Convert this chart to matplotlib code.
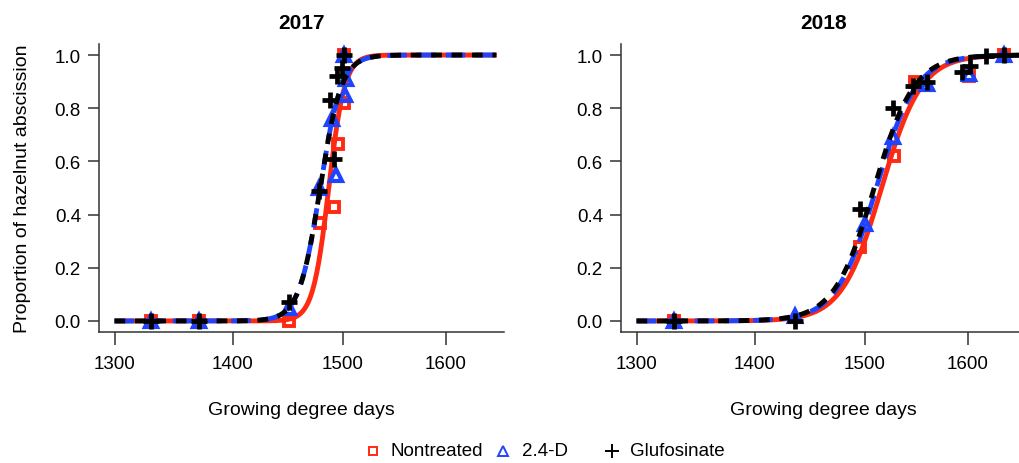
import numpy as np
import matplotlib
matplotlib.use('Agg')
import matplotlib.pyplot as plt
from matplotlib.ticker import FixedLocator, FixedFormatter, NullLocator
from matplotlib.lines import Line2D

plt.rcParams['font.family'] = ['Liberation Sans', 'DejaVu Sans']

# Observed points (growing degree days, proportion abscised)
gdd17_non = [1330, 1371, 1450, 1479, 1492, 1496, 1501, 1501]
prop17_non = [0.0, 0.0, 0.0, 0.37, 0.43, 0.665, 0.82, 1.0]
gdd17_24d = [1330, 1371, 1450, 1478, 1494, 1490, 1502, 1503, 1501]
prop17_24d = [0.0, 0.0, 0.05, 0.50, 0.55, 0.76, 0.85, 0.91, 1.0]
gdd17_glu = [1330, 1371, 1450, 1478, 1492, 1488, 1495, 1499, 1501]
prop17_glu = [0.0, 0.0, 0.07, 0.49, 0.61, 0.83, 0.92, 0.95, 1.0]

gdd18_non = [1331, 1496, 1528, 1548, 1601, 1637]
prop18_non = [0.0, 0.28, 0.62, 0.90, 0.92, 1.0]
gdd18_24d = [1331, 1436, 1500, 1527, 1560, 1601, 1637]
prop18_24d = [0.0, 0.02, 0.365, 0.69, 0.89, 0.93, 1.0]
gdd18_glu = [1331, 1436, 1496, 1527, 1546, 1560, 1594, 1602, 1619, 1637]
prop18_glu = [0.0, 0.0, 0.42, 0.80, 0.885, 0.90, 0.935, 0.96, 0.995, 1.0]

# fitted two-parameter log-logistic curves: (slope b, ED50 e)
fit17 = {'Nontreated': (200, 1487), '2.4-D': (150, 1479), 'Glufosinate': (150, 1479)}
fit18 = {'Nontreated': (80, 1516), '2.4-D': (80, 1511), 'Glufosinate': (80, 1509)}

ticks_x = [1300, 1400, 1500, 1600]
ticks_y = [0.0, 0.2, 0.4, 0.6, 0.8, 1.0]


def ll2(x, b, e):
    return 1.0 / (1.0 + np.exp(b * (np.log(e) - np.log(x))))


fig = plt.figure(figsize=(10.19, 4.64), dpi=100)
ax1 = fig.add_axes([99 / 1019, 131.4 / 464, 405 / 1019, 287.2 / 464])
ax2 = fig.add_axes([621 / 1019, 131.4 / 464, 405 / 1019, 287.2 / 464])

styles = {
    'Nontreated': dict(color='#ff2a12', ls='-', marker='s', ms=7, mew=2.8),
    '2.4-D': dict(color='#1f44ff', ls=(0, (4, 2)), marker='^', ms=8, mew=3),
    'Glufosinate': dict(color='black', ls=(0, (2.2, 2)), marker='+', ms=11, mew=3.4),
}

panels = [
    (ax1, '2017', fit17, [(gdd17_non, prop17_non), (gdd17_24d, prop17_24d), (gdd17_glu, prop17_glu)], 1652),
    (ax2, '2018', fit18, [(gdd18_non, prop18_non), (gdd18_24d, prop18_24d), (gdd18_glu, prop18_glu)], 1700),
]

for ax, title, fits, pts, xend in panels:
    xx = np.linspace(1300, xend, 600)
    for (name, (b, e)), (gx, gy) in zip(fits.items(), pts):
        st = styles[name]
        ax.plot(gx, gy, ls='none', marker=st['marker'], ms=st['ms'], mew=st['mew'],
                mec=st['color'], mfc='none', zorder=3)
        ax.plot(xx, ll2(xx, b, e), color=st['color'], ls=st['ls'], lw=3.5, zorder=3,
                solid_capstyle='butt', dash_capstyle='butt')
    ax.set_xscale('log')
    ax.set_xlim(1287.4, 1659.8)
    ax.set_ylim(-0.04, 1.04)
    ax.xaxis.set_major_locator(FixedLocator(ticks_x))
    ax.xaxis.set_major_formatter(FixedFormatter([str(t) for t in ticks_x]))
    ax.xaxis.set_minor_locator(NullLocator())
    ax.set_yticks(ticks_y)
    ax.set_yticklabels(['%.1f' % t for t in ticks_y])
    for s in ['top', 'right']:
        ax.spines[s].set_visible(False)
    for s in ['left', 'bottom']:
        ax.spines[s].set_color('#333333')
        ax.spines[s].set_linewidth(1.1)
    ax.tick_params(axis='x', length=9, width=1.1, color='#333333', labelsize=13.5, pad=8)
    ax.tick_params(axis='y', length=8, width=1.1, color='#333333', labelsize=13.5, pad=5)
    ax.set_title(title, fontsize=15, fontweight='bold', pad=12)
    ax.set_xlabel('Growing degree days', fontsize=14, labelpad=21)

ax1.set_ylabel('Proportion of hazelnut abscission', fontsize=14, labelpad=17)

# legend along the bottom
leg_y = 12 / 464
items = [(373, 391, 'Nontreated'), (503, 522, '2.4-D'), (612, 630, 'Glufosinate')]
for (mx, tx, name) in items:
    st = styles[name]
    fig.add_artist(Line2D([mx / 1019], [leg_y], marker=st['marker'], ls='none',
                          ms=st['ms'] * 0.9, mew=1.4, mec=st['color'], mfc='none',
                          transform=fig.transFigure))
    fig.text(tx / 1019, leg_y, name, fontsize=13.5, va='center', ha='left')

fig.savefig('out.png', dpi=100)
